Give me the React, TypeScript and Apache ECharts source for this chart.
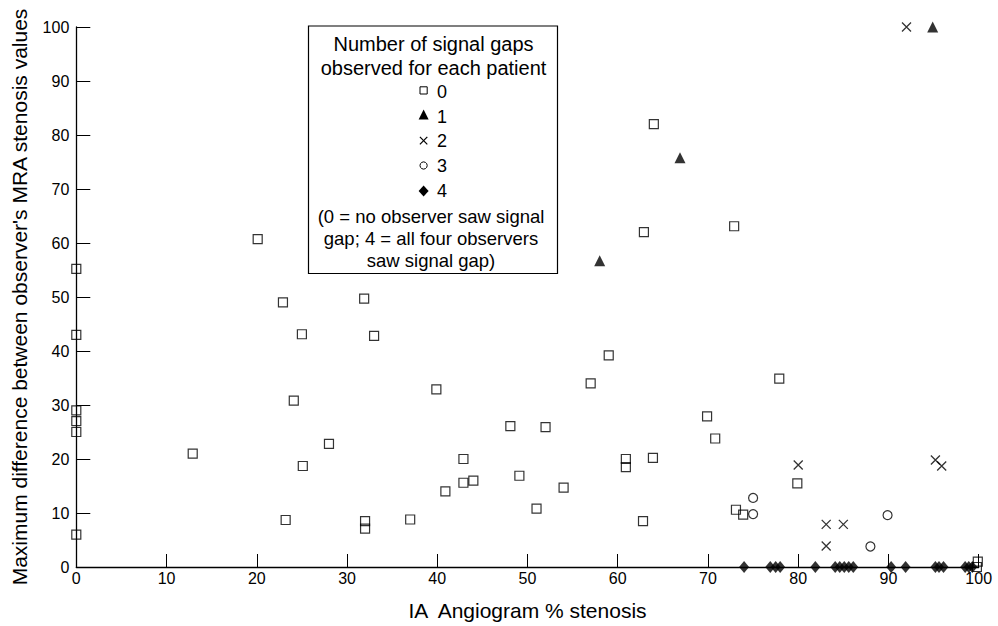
import React, { useEffect, useRef } from "react";
import * as echarts from "echarts";

const FONT = "'Liberation Sans', Arial, Helvetica, sans-serif";

// Scatter data [IA angiogram % stenosis, max difference]
const gaps0: number[][] = [
  [0, 55.2], [0, 43], [0, 29], [0, 27], [0, 25], [0, 6],
  [12.9, 21], [20.1, 60.7], [22.9, 49], [23.2, 8.7], [24.1, 30.8], [25, 43.1],
  [25.1, 18.7], [28, 22.8], [31.9, 49.7], [32, 8.5], [32, 7.1], [33, 42.8],
  [37, 8.8], [39.9, 32.9], [40.9, 14], [42.9, 20], [42.9, 15.6], [44, 16],
  [48.1, 26.1], [49.1, 16.9], [51, 10.8], [52, 25.9], [54, 14.7], [57, 34],
  [59, 39.2], [60.9, 20], [60.9, 18.5], [62.8, 8.5], [62.9, 62], [63.9, 20.2],
  [64, 82], [69.9, 27.9], [70.8, 23.8], [72.9, 63.1], [73.1, 10.6], [73.9, 9.7],
  [77.9, 34.9], [79.9, 15.5], [99.9, 1], [99.8, 0],
];
const gaps1: number[][] = [[58, 56.7], [66.9, 75.8], [94.9, 100]];
const gaps2: number[][] = [
  [80, 18.9], [83.1, 7.9], [85, 7.9], [83.1, 3.9], [92, 100], [95.2, 19.8], [95.9, 18.7],
];
const gaps3: number[][] = [[75, 12.8], [75, 9.8], [88, 3.8], [89.9, 9.6]];
const gaps4X: number[] = [
  74, 76.9, 77.5, 78, 81.9, 84.1, 84.6, 85.1, 85.6, 86.1, 90.3, 91.9, 95.2, 95.6, 96.1, 98.5, 98.9, 99.3,
];
const gaps4: number[][] = gaps4X.map((x) => [x, 0]);

const xTitle = "IA  Angiogram % stenosis";
const yTitle = "Maximum difference between observer's MRA stenosis values";
const legendHeader = ["Number of signal gaps", "observed for each patient"];
const legendItems = ["0", "1", "2", "3", "4"];
const legendNote = ["(0 = no observer saw signal", "gap; 4 = all four observers", "saw signal gap)"];

const CROSS = "path://M0,0L10,10M10,0L0,10";

export default function App() {
  const ref = useRef<HTMLDivElement>(null);
  useEffect(() => {
    document.body.style.margin = "0";
    if (!ref.current) return;
    const chart = echarts.init(ref.current, undefined, { renderer: "svg" });

    const hollow = { color: "rgba(0,0,0,0)", borderColor: "#000", borderWidth: 1.2 };
    const filled = { color: "#000" };

    const itemYs = [92, 116.5, 141, 165.5, 191];
    const symX = 423.6;
    const graphic: any[] = [
      {
        type: "rect",
        shape: { x: 308.5, y: 26, width: 249, height: 247.5 },
        style: { fill: "#fff", stroke: "#000", lineWidth: 1.2 },
        z: 10,
      },
      ...legendHeader.map((t, i) => ({
        type: "text",
        x: 433.5,
        y: [44, 67.5][i],
        z: 11,
        style: {
          text: t, fontSize: 20, fontFamily: FONT, fill: "#000",
          textAlign: "center", textVerticalAlign: "middle", align: "center", verticalAlign: "middle",
        },
      })),
      ...legendItems.map((t, i) => ({
        type: "text",
        x: 437,
        y: itemYs[i],
        z: 11,
        style: {
          text: t, fontSize: 18, fontFamily: FONT, fill: "#000",
          textAlign: "left", textVerticalAlign: "middle", align: "left", verticalAlign: "middle",
        },
      })),
      ...legendNote.map((t, i) => ({
        type: "text",
        x: 431,
        y: [216, 238.5, 260][i],
        z: 11,
        style: {
          text: t, fontSize: 18.5, fontFamily: FONT, fill: "#000",
          textAlign: "center", textVerticalAlign: "middle", align: "center", verticalAlign: "middle",
        },
      })),
      {
        type: "rect", z: 11,
        shape: { x: symX - 3.6, y: itemYs[0] - 5.2, width: 7.2, height: 7.2 },
        style: { fill: "none", stroke: "#000", lineWidth: 1 },
      },
      {
        type: "polygon", z: 11,
        shape: { points: [[symX, itemYs[1] - 7], [symX + 5, itemYs[1] + 3], [symX - 5, itemYs[1] + 3]] },
        style: { fill: "#000" },
      },
      {
        type: "line", z: 11,
        shape: { x1: symX - 3.7, y1: itemYs[2] - 4.2, x2: symX + 3.7, y2: itemYs[2] + 3.4 },
        style: { stroke: "#000", lineWidth: 1.2 },
      },
      {
        type: "line", z: 11,
        shape: { x1: symX + 3.7, y1: itemYs[2] - 4.2, x2: symX - 3.7, y2: itemYs[2] + 3.4 },
        style: { stroke: "#000", lineWidth: 1.2 },
      },
      {
        type: "circle", z: 11,
        shape: { cx: symX, cy: itemYs[3], r: 3.6 },
        style: { fill: "none", stroke: "#000", lineWidth: 1 },
      },
      {
        type: "polygon", z: 11,
        shape: { points: [[symX, itemYs[4] - 5.5], [symX + 5, itemYs[4]], [symX, itemYs[4] + 5.5], [symX - 5, itemYs[4]]] },
        style: { fill: "#000" },
      },
    ];

    const axisCommon = {
      type: "value" as const,
      min: 0,
      max: 100,
      interval: 10,
      splitLine: { show: false },
      axisLine: { show: true, onZero: false, lineStyle: { color: "#000", width: 1.3 } },
      nameLocation: "middle" as const,
      nameTextStyle: { fontSize: 21, fontFamily: FONT, color: "#000" },
    };

    chart.setOption({
      animation: false,
      backgroundColor: "#fff",
      grid: { left: 76.3, right: 19.3, top: 27, bottom: 54.3, containLabel: false },
      xAxis: {
        ...axisCommon,
        name: xTitle,
        nameGap: 33,
        axisTick: { show: true, inside: true, length: 13, lineStyle: { color: "#000", width: 1 } },
        axisLabel: { fontSize: 16, fontFamily: FONT, color: "#000", margin: 3 },
      },
      yAxis: {
        ...axisCommon,
        name: yTitle,
        nameGap: 46,
        nameRotate: 90,
        axisTick: { show: true, inside: true, length: 14, lineStyle: { color: "#000", width: 1 } },
        axisLabel: { fontSize: 16, fontFamily: FONT, color: "#000", margin: 7 },
      },
      graphic,
      series: [
        { name: "0", type: "scatter", data: gaps0, symbol: "rect", symbolSize: 9, itemStyle: hollow, clip: false },
        { name: "1", type: "scatter", data: gaps1, symbol: "triangle", symbolSize: 11, itemStyle: filled, clip: false },
        {
          name: "2", type: "scatter", data: gaps2, symbol: CROSS, symbolSize: 9,
          itemStyle: { color: "rgba(0,0,0,0)", borderColor: "#000", borderWidth: 1.3 }, clip: false,
        },
        { name: "3", type: "scatter", data: gaps3, symbol: "circle", symbolSize: 9, itemStyle: hollow, clip: false },
        { name: "4", type: "scatter", data: gaps4, symbol: "diamond", symbolSize: [10, 12], itemStyle: filled, clip: false },
      ],
    });
    return () => chart.dispose();
  }, []);
  return (
    <div
      ref={ref}
      style={{ position: "fixed", left: 0, top: 0, width: 998, height: 626, background: "#fff" }}
    />
  );
}
